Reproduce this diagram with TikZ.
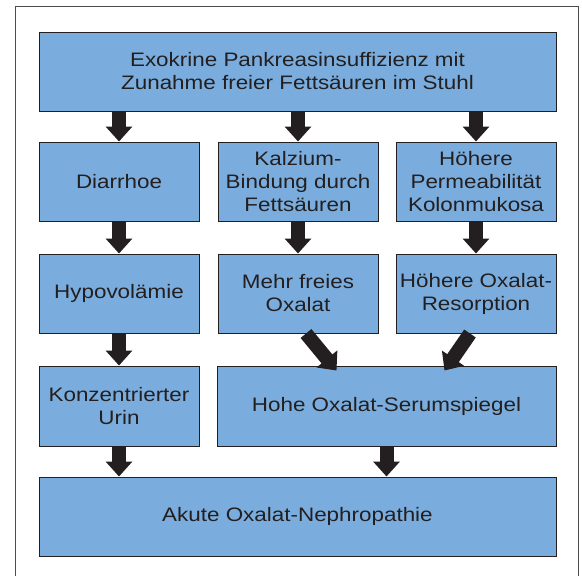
\documentclass[tikz,border=0pt]{standalone}
\usepackage{fontspec}
\setmainfont{Liberation Sans}[FakeStretch=1.15]
\usetikzlibrary{arrows.meta,calc}
\definecolor{boxblue}{RGB}{122,173,221}
\definecolor{arrdark}{RGB}{35,31,32}
\tikzset{
	box/.style={draw=arrdark, line width=1pt, fill=boxblue, align=center,
		inner sep=0pt, minimum width=160pt, minimum height=79pt,
		font=\fontsize{19.5}{23}\selectfont, text=arrdark},
	arr/.style={draw=arrdark, line width=14pt,
		-{Triangle[width=26pt,length=15pt]}}
}
\begin{document}
\begin{tikzpicture}[x=1pt, y=-1pt]
	\useasboundingbox (0,0) rectangle (582,576);
	%frame
	\begin{scope}
		\clip (0,0) rectangle (582,576);
		\draw[line width=1pt, draw=black!70] (15,6) rectangle (578,600);
	\end{scope}
	%boxes
	\node[box, minimum width=517pt] (pank) at (297.5,71.5)
		{Exokrine Pankreasinsuffizienz mit\\Zunahme freier Fettsäuren im Stuhl};
	\node[box] (diarr) at (119,181.5) {Diarrhoe};
	\node[box] (kalz) at (298,181.5) {Kalzium-\\Bindung durch\\Fettsäuren};
	\node[box] (perm) at (476,181.5) {Höhere\\Permeabilität\\Kolonmukosa};
	\node[box] (hypo) at (119,293.5) {Hypovolämie};
	\node[box] (oxal) at (298,293.5) {Mehr freies\\Oxalat};
	\node[box] (resorp) at (476,293.5) {Höhere Oxalat-\\Resorption};
	\node[box, minimum height=80pt] (urin) at (119,406) {Konzentrierter\\Urin};
	\node[box, minimum width=339pt, minimum height=80pt] (serum) at (386.5,406)
		{Hohe Oxalat-Serumspiegel};
	\node[box, minimum width=517pt] (nephro) at (297.5,516.5)
		{Akute Oxalat-Nephropathie};
	%arrows
	\foreach \a/\b in {pank/diarr, pank/kalz, pank/perm, diarr/hypo,
		kalz/oxal, perm/resorp, hypo/urin}
	\draw[arr] (\b.north |- \a.south) -- (\b.north);
	\foreach \a/\b in {urin/nephro, serum/nephro}
	\draw[arr] (\a.south) -- (\a.south |- \b.north);
	\draw[arr] ($(oxal.south)+(8,0)$) -- ($(serum.north)+(-50,5)$);
	\draw[arr] ($(resorp.south)+(-6,0)$) -- ($(serum.north)+(58,5)$);
\end{tikzpicture}
\end{document}
